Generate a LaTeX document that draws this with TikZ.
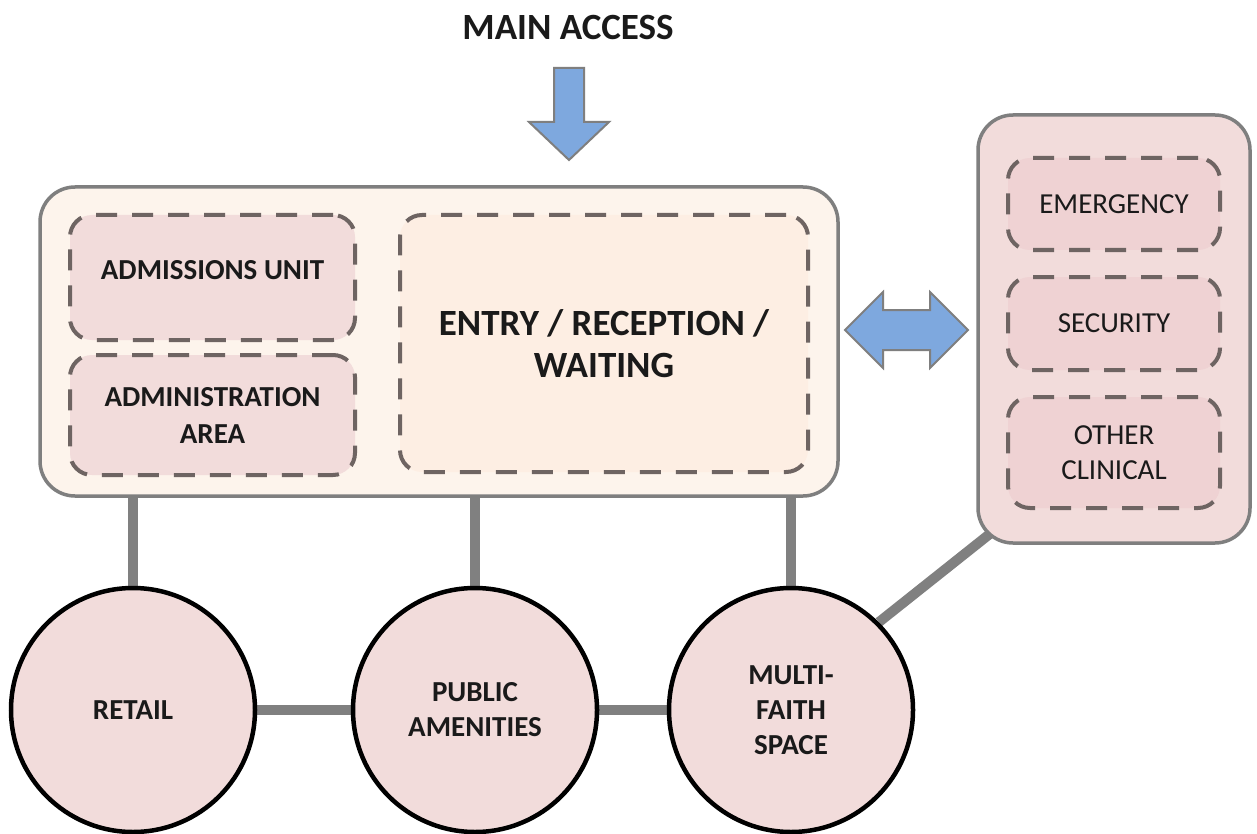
\documentclass[tikz,border=0pt]{standalone}
\usepackage{fontspec}
\setmainfont{Carlito}
\usetikzlibrary{backgrounds}
\definecolor{boxline}{HTML}{7F7F7F}
\definecolor{cream}{HTML}{FDF4EC}
\definecolor{peach}{HTML}{FDEEE3}
\definecolor{pinkA}{HTML}{F2DCDB}
\definecolor{pinkB}{HTML}{EFD2D3}
\definecolor{dashc}{HTML}{6E6462}
\definecolor{arrowblue}{HTML}{7EA8DE}
\definecolor{conn}{HTML}{808080}
\definecolor{txt}{HTML}{1A1A1A}
\begin{document}
\begin{tikzpicture}[x=1pt,y=-1pt,
  outerbox/.style={draw=boxline, line width=3.5pt, rounded corners=35pt, inner sep=0pt},
  zone/.style={draw=dashc, line width=4pt, dash pattern=on 21pt off 15pt, rounded corners=22pt,
    inner sep=0pt, align=center, text=txt},
  bigfont/.style={font=\bfseries\fontsize{29}{37}\selectfont},
  smallfont/.style={font=\fontsize{29}{35}\selectfont},
  hub/.style={circle, draw=black, line width=4.5pt, fill=pinkA, minimum size=244pt, inner sep=0pt,
    align=center, text=txt, font=\bfseries\fontsize{29}{35}\selectfont},
  link/.style={draw=conn, line width=10pt},
  bluearrow/.style={fill=arrowblue, draw=boxline, line width=2pt, line join=miter}
]
\useasboundingbox (0,0) rectangle (1257,834);

% title
\node[font=\bfseries\fontsize{37}{44}\selectfont, text=txt] (title) at (568,27) {MAIN ACCESS};

% main access arrow
\draw[bluearrow] (554,68) -- (584,68) -- (584,122) -- (609,122) -- (569,160) -- (529,122) -- (554,122) -- cycle;

% main block
\node[outerbox, fill=cream, minimum width=798pt, minimum height=309pt] (main) at (439,341.5) {};
\node[zone, fill=pinkA, minimum width=285pt, minimum height=125pt, bigfont, text depth=16pt] (adm) at (212.5,277.5)
  {ADMISSIONS UNIT};
\node[zone, fill=pinkA, minimum width=285pt, minimum height=120pt, bigfont] (admin) at (212.5,415)
  {ADMINISTRATION\\AREA};
\node[zone, fill=peach, minimum width=408pt, minimum height=257pt,
  font=\bfseries\fontsize{37}{42}\selectfont] (entry) at (604,343.5)
  {ENTRY / RECEPTION /\\WAITING};

% clinical block
\node[outerbox, fill=pinkA, minimum width=272pt, minimum height=428pt] (clin) at (1114,329) {};
\node[zone, fill=pinkB, minimum width=212pt, minimum height=92pt, smallfont] (emer) at (1114,204) {EMERGENCY};
\node[zone, fill=pinkB, minimum width=212pt, minimum height=93pt, smallfont] (sec) at (1114,323.5) {SECURITY};
\node[zone, fill=pinkB, minimum width=212pt, minimum height=111pt, smallfont] (oth) at (1114,452.5) {OTHER\\CLINICAL};

% double arrow
\draw[bluearrow] (845,330) -- (883,292) -- (883,310) -- (930,310) -- (930,292) -- (968,330)
  -- (930,368) -- (930,350) -- (883,350) -- (883,368) -- cycle;

% hubs
\node[hub] (retail) at (133,710) {RETAIL};
\node[hub] (pub) at (475,710) {PUBLIC\\AMENITIES};
\node[hub] (multi) at (791,710) {MULTI-\\FAITH\\SPACE};

\coordinate (clinend) at ([shift={(15,-12)}]clin.south west);

\begin{pgfonlayer}{background}
  \fill[white] (0,0) rectangle (1257,834);
  \draw[link] (retail.north) -- (retail.north |- main.south);
  \draw[link] (pub.north) -- (pub.north |- main.south);
  \draw[link] (multi.north) -- (multi.north |- main.south);
  \draw[link] (retail) -- (pub);
  \draw[link] (pub) -- (multi);
  \draw[link] (multi.45) -- (clinend);
\end{pgfonlayer}
\end{tikzpicture}
\end{document}
